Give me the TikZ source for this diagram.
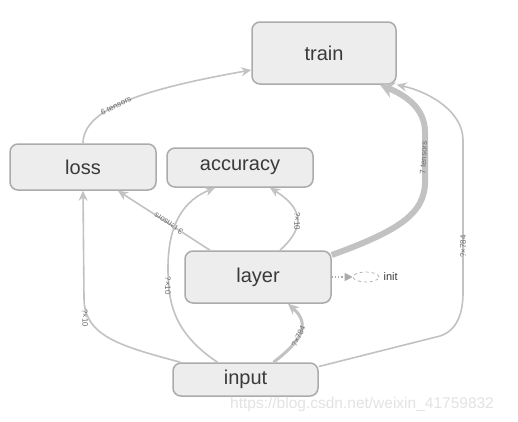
\documentclass[tikz,border=0pt]{standalone}
\usepackage{fontspec}
\setmainfont{Liberation Sans}
\usetikzlibrary{arrows.meta,shapes.geometric}
\definecolor{edgec}{HTML}{C2C2C2}
\definecolor{boxfill}{HTML}{EDEDED}
\definecolor{boxdraw}{HTML}{ABABAB}
\definecolor{txt}{HTML}{3A3A3A}
\definecolor{lbl}{HTML}{6E6E6E}
\tikzset{
  opnode/.style={draw=boxdraw, fill=boxfill, line width=1.5pt, rounded corners=8pt,
    inner sep=0pt, text=txt, font=\fontsize{20}{24}\selectfont},
  edge/.style={draw=edgec, line width=1.6pt, -{Stealth[length=10pt,width=9pt]}},
  elabel/.style={font=\fontsize{8}{9}\selectfont, text=lbl, inner sep=0.5pt, sloped},
}
\begin{document}
\begin{tikzpicture}[x=1pt,y=-1pt]
\useasboundingbox (0,0) rectangle (518,421);
\fill[white] (0,0) rectangle (518,421);

\node[opnode, minimum width=144pt, minimum height=62pt] (train) at (324,53) {train};
\node[opnode, minimum width=146pt, minimum height=46pt] (loss) at (83,167) {loss};
\node[opnode, minimum width=146pt, minimum height=39pt] (accuracy) at (240,167.5) {accuracy};
\node[opnode, minimum width=146pt, minimum height=52pt] (layer) at (258,277) {layer};
\node[opnode, minimum width=145pt, minimum height=33pt] (input) at (245.5,379.5) {input};

% loss -> train
\draw[edge] (loss.north) .. controls ([yshift=36pt]loss.north) and (150,88) ..
  node[elabel, pos=0.42] {6 tensors} ([yshift=-17pt]train.west);

% layer -> loss
\draw[edge] ([xshift=-48pt]layer.north) --
  node[elabel, allow upside down, pos=0.45] {3 tensors} ([xshift=35pt]loss.south);

% layer -> accuracy
\draw[edge] ([xshift=22pt]layer.north) .. controls (300,232) and (309,212) ..
  node[elabel, pos=0.5] {?×10} ([xshift=30pt]accuracy.south);

% input -> accuracy
\coordinate (ia) at (168,268);
\draw[edge] ([xshift=-28pt]input.north) .. controls (172,332) and (168,300) .. (ia)
  .. controls (168,222) and (185,200) .. ([xshift=-25pt]accuracy.south);
\path (ia) -- node[elabel, pos=0.55] {?×10} (168,300);

% input -> loss
\coordinate (il) at (84,298);
\draw[edge] ([xshift=-65pt]input.north) .. controls (120,346) and (84,336) .. (il) -- (loss.south);
\path (il) -- node[elabel, pos=0.5] {?×10} (86,338);

% input -> layer
\draw[draw=edgec, line width=3pt, -{Stealth[length=11pt,width=10pt]}]
  ([xshift=28pt]input.north) .. controls (300,342) and (312,325) ..
  node[elabel, pos=0.45, allow upside down] {?×784} ([xshift=30pt]layer.south);

% layer -> train (thick)
\coordinate (lt1) at (425,182);
\coordinate (lt2) at (425,132);
\draw[draw=edgec, line width=6pt, -{Stealth[length=14pt,width=16pt]}]
  ([yshift=22pt]layer.east) .. controls (395,232) and (425,215) .. (lt1) -- (lt2)
  .. controls (425,108) and (405,95) .. ([xshift=56pt]train.south);
\path (lt1) ++(-3,2) -- node[elabel, pos=0.5] {7 tensors} (lt2);

% input -> train
\coordinate (it1) at (440,336);
\coordinate (it2) at (463,292);
\coordinate (it3) at (463,140);
\draw[edge] ([yshift=13pt]input.east) -- (it1) .. controls (458,330) and (463,312) .. (it2)
  -- node[elabel, pos=0.3] {?×784} (it3) .. controls (463,112) and (430,92) .. (train.south east);

% layer -> init
\node[draw=boxdraw, dashed, ellipse, line width=0.7pt, minimum width=26pt, minimum height=10pt, inner sep=0pt] (init) at (366,277) {};
\node[anchor=west, text=txt, font=\fontsize{11}{12}\selectfont, inner sep=0pt] (initlbl) at ([xshift=4pt]init.east) {init};
\draw[draw=boxdraw, line width=1.2pt, dotted, -{Triangle[length=8pt,width=8pt]}] (layer.east) -- (init.west);

% watermark
\node[anchor=west, text=gray!22, font=\fontsize{15.5}{17}\selectfont, inner sep=0pt] (wm) at (230,404) {https://blog.csdn.net/weixin\_41759832};
\end{tikzpicture}
\end{document}
